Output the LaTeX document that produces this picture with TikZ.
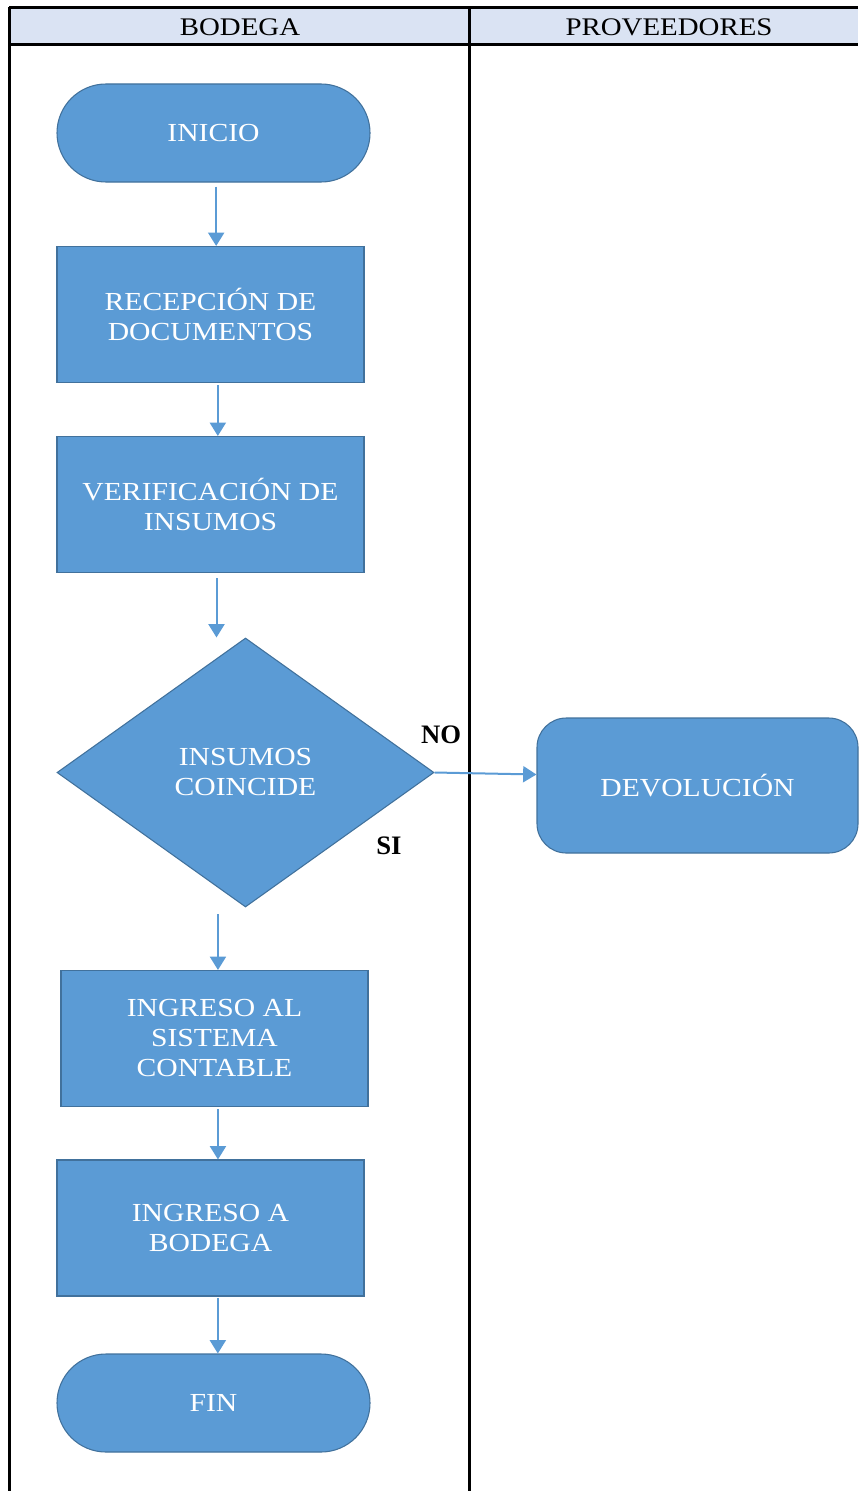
\documentclass[tikz,border=0pt]{standalone}
\usepackage{fontspec}
\setmainfont{Liberation Serif}
\newfontfamily\cajafont{Liberation Serif}[FakeStretch=1.14]
\usetikzlibrary{arrows.meta,shapes.geometric}
\definecolor{azul}{HTML}{5B9BD5}
\definecolor{borde}{HTML}{41719C}
\definecolor{cabecera}{HTML}{DAE3F3}

\begin{document}
\begin{tikzpicture}[x=0.75pt, y=-0.75pt]
  \tikzset{
    caja/.style={rectangle,draw=borde,fill=azul,line width=0.8pt,minimum width=230.25pt,minimum height=102pt,inner sep=0pt,align=center,text=white,font=\cajafont\fontsize{19.5}{22.5}\selectfont},
    termino/.style={caja,minimum width=234.75pt,minimum height=73.5pt,rounded corners=36.75pt},
    decision/.style={caja,diamond,minimum width=282.75pt,minimum height=201.75pt},
    externo/.style={caja,minimum width=240.75pt,minimum height=101.25pt,rounded corners=22pt},
    titulo/.style={font=\cajafont\fontsize{19}{21}\selectfont},
    rama/.style={font=\bfseries\fontsize{20}{22}\selectfont},
    linea/.style={line width=2.25pt},
    flecha/.style={draw=azul,line width=1.5pt,-{Triangle[length=10pt,width=12pt]}}
  }
  \useasboundingbox (0,0) rectangle (858,1491);
  \fill[cabecera] (9,8) rectangle (858,45);
  \draw[linea] (9,8) -- (858,8);
  \draw[linea] (9,45) -- (858,45);
  \draw[linea] (9,6.9) -- (9,1491);
  \draw[linea] (469,6.9) -- (469,1491);
  \node[titulo] (bodega) at (240,27) {BODEGA};
  \node[titulo] (prov) at (669,27) {PROVEEDORES};
  \node[termino] (inicio) at (213.5,133) {INICIO};
  \node[caja] (recep) at (210.5,314.5) {RECEPCIÓN DE\\DOCUMENTOS};
  \node[caja] (verif) at (210.5,504.5) {VERIFICACIÓN DE\\INSUMOS};
  \node[decision] (rombo) at (245.5,772.5) {INSUMOS\\COINCIDE};
  \node[caja] (ingcont) at (214.5,1038.5) {INGRESO AL\\SISTEMA\\CONTABLE};
  \node[caja] (ingbod) at (210.5,1228) {INGRESO A\\BODEGA};
  \node[termino] (fin) at (213.5,1403) {FIN};
  \node[externo] (devol) at (697.5,785.5) {DEVOLUCIÓN};
  \node[rama] (no) at (441,735) {NO};
  \node[rama] (si) at (389,846) {SI};
  \draw[flecha,shorten <=3pt] ([xshift=2pt]inicio.south) -- ([xshift=2pt]inicio.south |- recep.north);
  \draw[flecha,shorten <=1.5pt] ([xshift=5.5pt]recep.south) -- ([xshift=5.5pt]recep.south |- verif.north);
  \draw[flecha,shorten <=4pt] ([xshift=4.5pt]verif.south) -- ([xshift=4.5pt]verif.south |- rombo.north);
  \draw[flecha,shorten <=5pt] ([xshift=2.6pt]rombo.south -| ingcont.north) -- ([xshift=2.6pt]ingcont.north);
  \draw[flecha,shorten <=1.5pt] ([xshift=2.6pt]ingcont.south) -- ([xshift=2.6pt]ingcont.south |- ingbod.north);
  \draw[flecha,shorten <=1pt] ([xshift=5.5pt]ingbod.south) -- ([xshift=5.5pt]ingbod.south |- fin.north);
  \draw[flecha] (rombo.east) -- ([yshift=-1.5pt]rombo.east -| devol.west);
\end{tikzpicture}
\end{document}
